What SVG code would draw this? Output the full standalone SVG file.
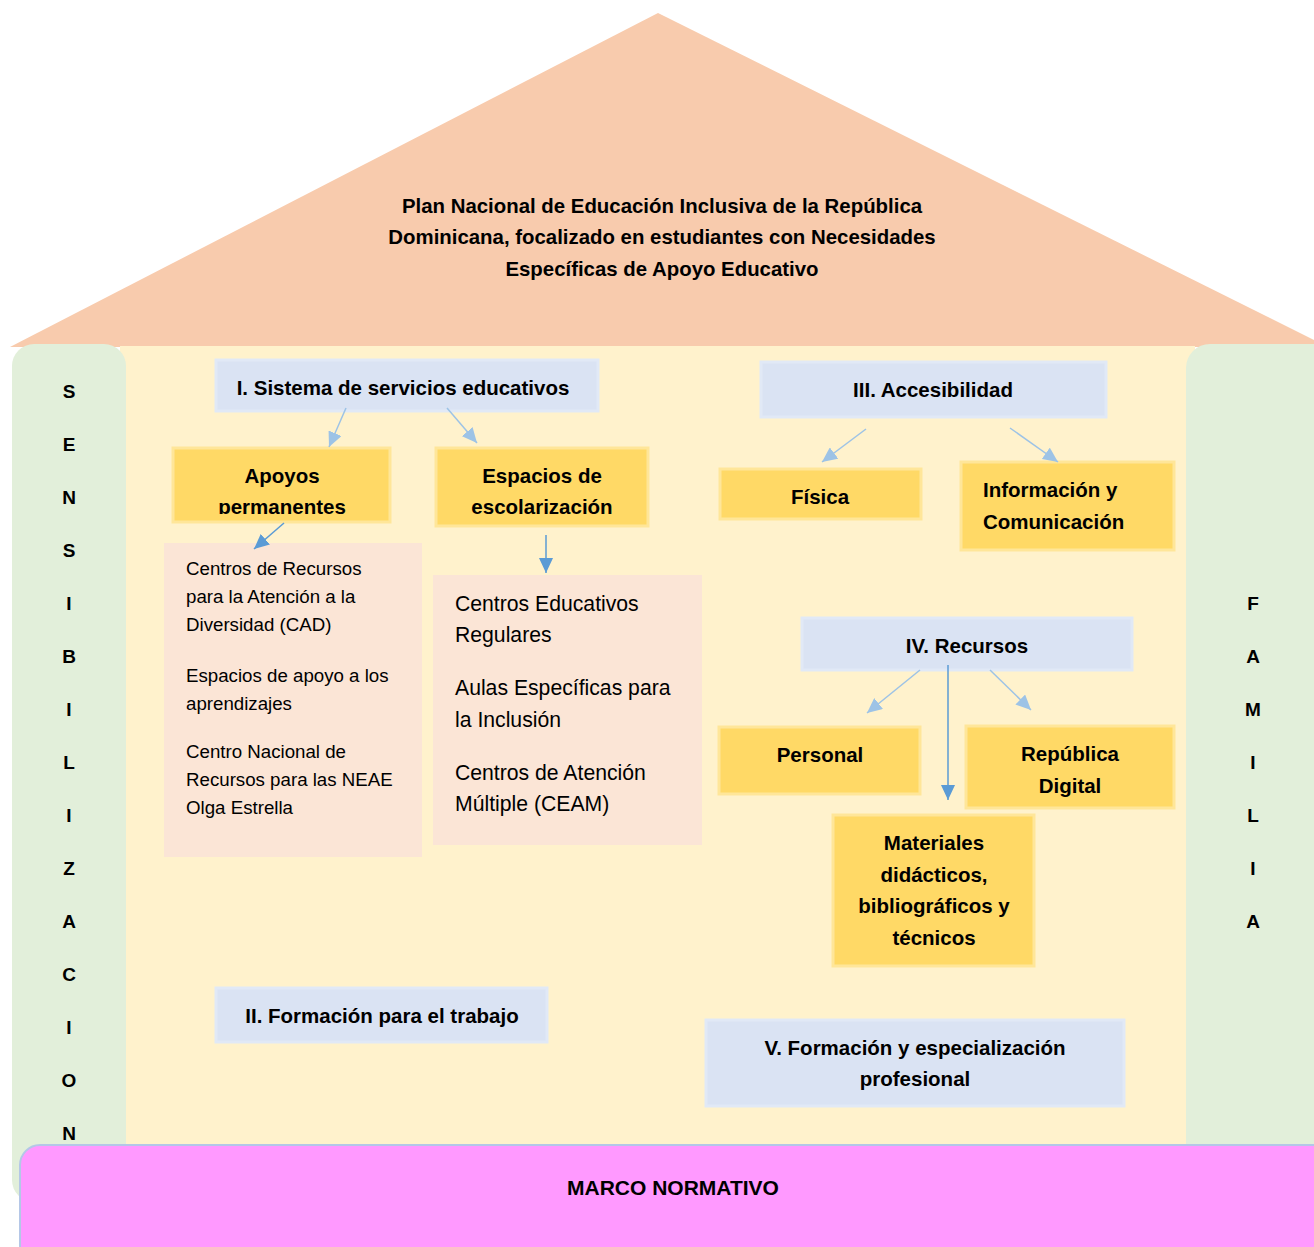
<svg xmlns="http://www.w3.org/2000/svg" width="1314" height="1247" viewBox="0 0 1314 1247">
<style>
text{font-family:"Liberation Sans",Arial,sans-serif;fill:#000}
.b{font-weight:bold}
.c{text-anchor:middle}
.blue{fill:#DAE3F3;stroke:#E1E9F6;stroke-width:3}
.yel{fill:#FFD966;stroke:#FFE699;stroke-width:3}
.peach{fill:#FBE5D6}
.pil{font-weight:bold;font-size:19px;text-anchor:middle}
.la{stroke:#9DC3E6;stroke-width:1.5;fill:none;marker-end:url(#ml)}
.da{stroke:#5B9BD5;stroke-width:1.5;fill:none;marker-end:url(#md)}
</style>
<defs>
<marker id="ml" markerUnits="userSpaceOnUse" markerWidth="16" markerHeight="14" refX="15" refY="7" orient="auto"><path d="M0,0 L15,7 L0,14 z" fill="#9DC3E6"/></marker>
<marker id="md" markerUnits="userSpaceOnUse" markerWidth="16" markerHeight="14" refX="15" refY="7" orient="auto"><path d="M0,0 L15,7 L0,14 z" fill="#5B9BD5"/></marker>
<clipPath id="clipA"><rect x="173" y="448" width="217" height="66"/></clipPath>
</defs>
<rect width="1314" height="1247" fill="#fff"/>
<g id="roof">
<polygon points="10,347 658,13 1328,347" fill="#F8CBAD"/>
<text class="b c" font-size="20.4" x="662" y="213">Plan Nacional de Educación Inclusiva de la República</text>
<text class="b c" font-size="20.4" x="662" y="244">Dominicana, focalizado en estudiantes con Necesidades</text>
<text class="b c" font-size="20.4" x="662" y="276">Específicas de Apoyo Educativo</text>
</g>
<g id="body"><rect x="120" y="346" width="1075" height="802" fill="#FFF2CC"/></g>
<g id="sensibilizacion">
<rect x="12" y="344" width="114" height="858" rx="22" fill="#E2EFDA"/>
<text class="pil" x="69" y="398">S</text>
<text class="pil" x="69" y="451">E</text>
<text class="pil" x="69" y="504">N</text>
<text class="pil" x="69" y="557">S</text>
<text class="pil" x="69" y="610">I</text>
<text class="pil" x="69" y="663">B</text>
<text class="pil" x="69" y="716">I</text>
<text class="pil" x="69" y="769">L</text>
<text class="pil" x="69" y="822">I</text>
<text class="pil" x="69" y="875">Z</text>
<text class="pil" x="69" y="928">A</text>
<text class="pil" x="69" y="981">C</text>
<text class="pil" x="69" y="1034">I</text>
<text class="pil" x="69" y="1087">O</text>
<text class="pil" x="69" y="1140">N</text>
</g>
<g id="familia">
<rect x="1186" y="344" width="150" height="840" rx="24" fill="#E2EFDA"/>
<text class="pil" x="1253" y="610">F</text>
<text class="pil" x="1253" y="663">A</text>
<text class="pil" x="1253" y="716">M</text>
<text class="pil" x="1253" y="769">I</text>
<text class="pil" x="1253" y="822">L</text>
<text class="pil" x="1253" y="875">I</text>
<text class="pil" x="1253" y="928">A</text>
</g>
<g id="marco">
<rect x="20" y="1145" width="1320" height="120" rx="20" fill="#FF99FF" stroke="#B4C7E7" stroke-width="2"/>
<text class="b c" font-size="21" x="673" y="1195">MARCO NORMATIVO</text>
</g>
<g id="n1">
<rect class="blue" x="216" y="360" width="382" height="51"/>
<text class="b c" font-size="20.5" x="403" y="395">I. Sistema de servicios educativos</text>
</g>
<g id="apoyos">
<rect class="yel" x="173" y="448" width="217" height="74"/>
<g clip-path="url(#clipA)">
<text class="b c" font-size="20.5" x="282" y="483">Apoyos</text>
<text class="b c" font-size="20.5" x="282" y="514">permanentes</text>
</g>
</g>
<g id="espacios">
<rect class="yel" x="436" y="448" width="212" height="78"/>
<text class="b c" font-size="20.5" x="542" y="483">Espacios de</text>
<text class="b c" font-size="20.5" x="542" y="514">escolarización</text>
</g>
<g id="lista1">
<rect class="peach" x="164" y="543" width="258" height="314"/>
<text font-size="18.7" x="186" y="575">Centros de Recursos</text>
<text font-size="18.7" x="186" y="603">para la Atención a la</text>
<text font-size="18.7" x="186" y="631">Diversidad (CAD)</text>
<text font-size="18.7" x="186" y="682">Espacios de apoyo a los</text>
<text font-size="18.7" x="186" y="710">aprendizajes</text>
<text font-size="18.7" x="186" y="758">Centro Nacional de</text>
<text font-size="18.7" x="186" y="786">Recursos para las NEAE</text>
<text font-size="18.7" x="186" y="814">Olga Estrella</text>
</g>
<g id="lista2">
<rect class="peach" x="433" y="575" width="269" height="270"/>
<text font-size="21.2" x="455" y="611">Centros Educativos</text>
<text font-size="21.2" x="455" y="642">Regulares</text>
<text font-size="21.2" x="455" y="695">Aulas Específicas para</text>
<text font-size="21.2" x="455" y="727">la Inclusión</text>
<text font-size="21.2" x="455" y="780">Centros de Atención</text>
<text font-size="21.2" x="455" y="811">Múltiple (CEAM)</text>
</g>
<g id="n3">
<rect class="blue" x="761" y="362" width="345" height="55"/>
<text class="b c" font-size="20.5" x="933" y="397">III. Accesibilidad</text>
</g>
<g id="fisica">
<rect class="yel" x="720" y="469" width="201" height="50"/>
<text class="b c" font-size="20.5" x="820" y="504">Física</text>
</g>
<g id="info">
<rect class="yel" x="961" y="462" width="213" height="88"/>
<text class="b" font-size="20.5" x="983" y="497">Información y</text>
<text class="b" font-size="20.5" x="983" y="529">Comunicación</text>
</g>
<g id="n4">
<rect class="blue" x="802" y="618" width="330" height="52"/>
<text class="b c" font-size="20.5" x="967" y="653">IV. Recursos</text>
</g>
<g id="personal">
<rect class="yel" x="719" y="727" width="201" height="67"/>
<text class="b c" font-size="20.5" x="820" y="762">Personal</text>
</g>
<g id="republica">
<rect class="yel" x="966" y="726" width="208" height="82"/>
<text class="b c" font-size="20.5" x="1070" y="761">República</text>
<text class="b c" font-size="20.5" x="1070" y="793">Digital</text>
</g>
<g id="materiales">
<rect class="yel" x="833" y="815" width="201" height="151"/>
<text class="b c" font-size="20.5" x="934" y="850">Materiales</text>
<text class="b c" font-size="20.5" x="934" y="882">didácticos,</text>
<text class="b c" font-size="20.5" x="934" y="913">bibliográficos y</text>
<text class="b c" font-size="20.5" x="934" y="945">técnicos</text>
</g>
<g id="n2">
<rect class="blue" x="216" y="988" width="331" height="54"/>
<text class="b c" font-size="20.5" x="382" y="1023">II. Formación para el trabajo</text>
</g>
<g id="n5">
<rect class="blue" x="706" y="1020" width="418" height="86"/>
<text class="b c" font-size="20.5" x="915" y="1055">V. Formación y especialización</text>
<text class="b c" font-size="20.5" x="915" y="1086">profesional</text>
</g>
<g id="connectors">
<line class="la" x1="346" y1="408" x2="329" y2="447"/>
<line class="la" x1="447" y1="408" x2="477" y2="443"/>
<line class="da" x1="284" y1="523" x2="254" y2="549"/>
<line class="da" x1="546" y1="535" x2="546" y2="573"/>
<line class="la" x1="866" y1="429" x2="822" y2="462"/>
<line class="la" x1="1010" y1="428" x2="1058" y2="462"/>
<line class="la" x1="920" y1="670" x2="867" y2="713"/>
<line class="la" x1="990" y1="670" x2="1031" y2="710"/>
<line class="da" x1="948" y1="665" x2="948" y2="800"/>
</g>
</svg>
